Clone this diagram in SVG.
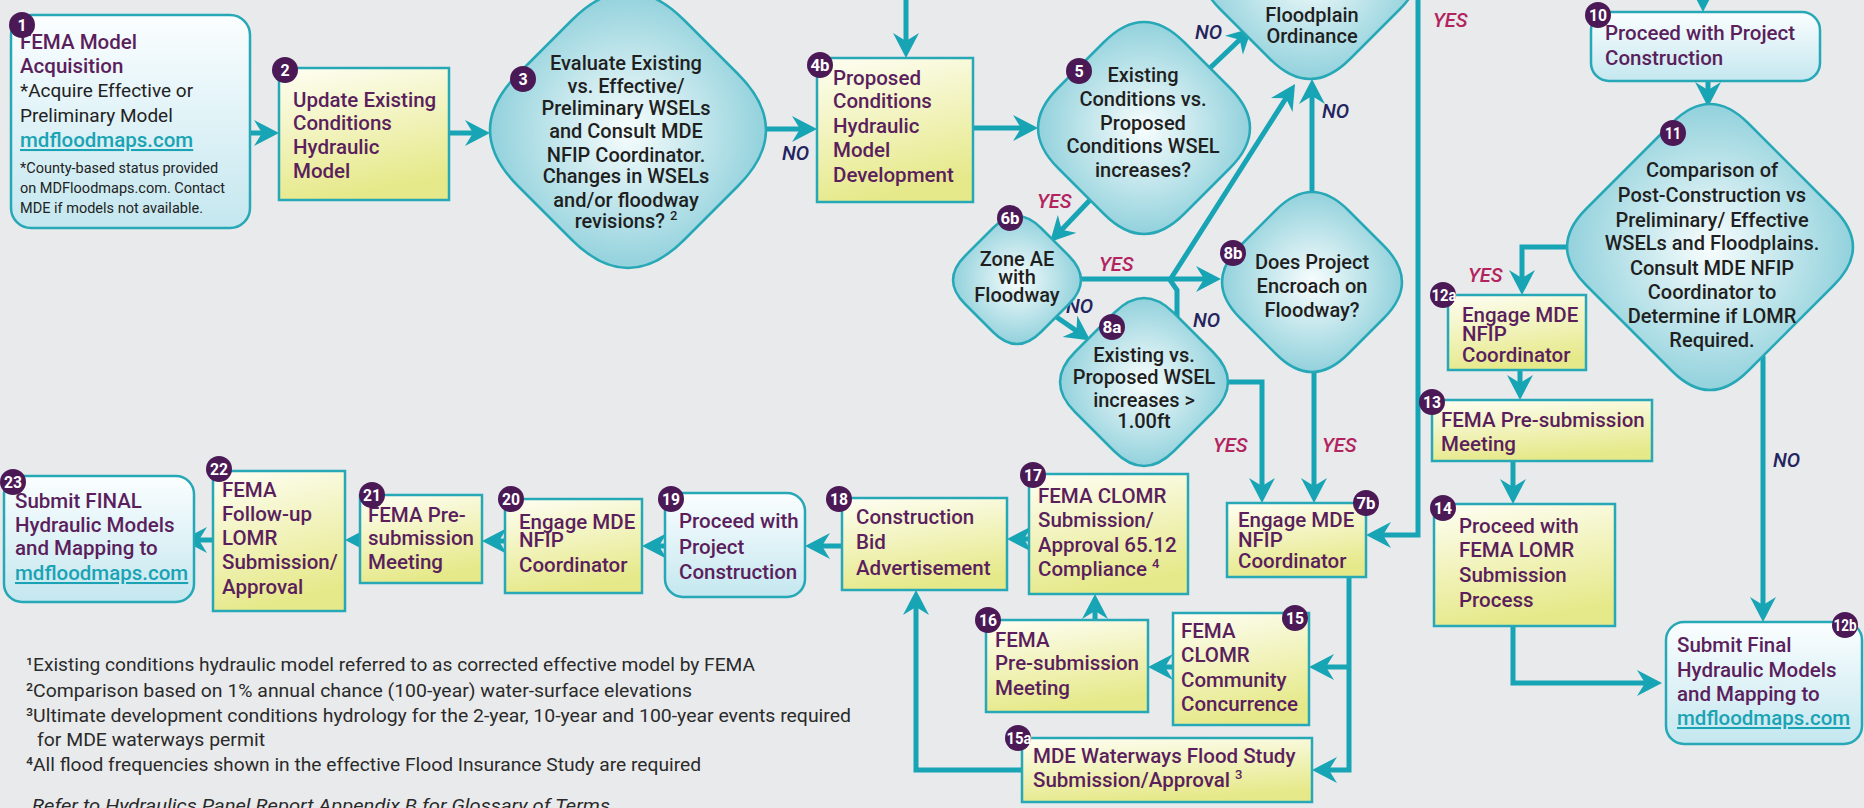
<svg xmlns="http://www.w3.org/2000/svg" width="1864" height="808" viewBox="0 0 1864 808">
<defs>
<style>
.t{font-family:Roboto,'Liberation Sans',sans-serif;font-size:20.5px;font-weight:500;fill:#5a1f5c}
.d{font-family:Roboto,'Liberation Sans',sans-serif;font-size:20px;font-weight:500;fill:#1f1f1f;text-anchor:middle}
.b{font-family:Roboto,'Liberation Sans',sans-serif;font-size:19px;font-weight:400;fill:#222}
.s{font-family:Roboto,'Liberation Sans',sans-serif;font-size:14.5px;font-weight:400;fill:#222}
.lnk{fill:#1aa3b4;text-decoration:underline}
.bc{fill:#4b1a56}
.bt{font-family:Roboto,'Liberation Sans',sans-serif;font-size:16px;font-weight:700;fill:#fff;text-anchor:middle}
.yes{font-family:Roboto,'Liberation Sans',sans-serif;font-size:20px;font-style:italic;font-weight:500;fill:#b3245f}
.no{font-family:Roboto,'Liberation Sans',sans-serif;font-size:20px;font-style:italic;font-weight:500;fill:#24245e}
.fn{font-family:Roboto,'Liberation Sans',sans-serif;font-size:19px;font-weight:400;fill:#2a2a2a}
.conn path{stroke:#17a4b4;stroke-width:5;fill:none;marker-end:url(#ah)}
.box{fill:url(#gy);stroke:#27a8b7;stroke-width:2.5}
.rbox{fill:url(#gb);stroke:#27a8b7;stroke-width:2.5}
.dia{fill:url(#gd);stroke:#27a8b7;stroke-width:2.5}
</style>
<linearGradient id="gy" x1="0" y1="0" x2="0.25" y2="1"><stop offset="0" stop-color="#fefef4"/><stop offset="1" stop-color="#e6e98a"/></linearGradient>
<linearGradient id="gb" x1="0" y1="0" x2="0" y2="1"><stop offset="0" stop-color="#fbfeff"/><stop offset="1" stop-color="#c4e7ef"/></linearGradient>
<radialGradient id="gd" cx="0.5" cy="0.5" r="0.55"><stop offset="0" stop-color="#f8fdfd"/><stop offset="1" stop-color="#88cdd9"/></radialGradient>
<marker id="ah" markerUnits="userSpaceOnUse" markerWidth="26" markerHeight="26" viewBox="0 0 26 26" refX="16" refY="13" orient="auto"><path d="M0,0 L25,13 L0,26 L8,13 Z" fill="#17a4b4"/></marker>
</defs>
<rect x="0" y="0" width="1864" height="808" fill="#e9eaec"/>

<g id="connectors" class="conn">
<path d="M250,133 H270"/>
<path d="M449,133 H481"/>
<path d="M766,129 H808"/>
<path d="M906,-5 V49"/>
<path d="M973,128 H1029"/>
<path d="M1210,68 L1245.5,34.2"/>
<path d="M1177,318 V290 L1170,280 L1290.2,91.6"/>
<path d="M1312,192 V88"/>
<path d="M1090,200 L1056.2,235.5"/>
<path d="M1081,279 H1212"/>
<path d="M1055,316 L1083,335.4"/>
<path d="M1228,382 H1262 V494"/>
<path d="M1314,372 V494"/>
<path d="M1418,-5 V535 H1375"/>
<path d="M1703,-5 V3"/>
<path d="M1708,81 V98"/>
<path d="M1568,247 H1522 V286"/>
<path d="M1520,370 V391"/>
<path d="M1513,461 V495"/>
<path d="M1513,626 V683 H1653"/>
<path d="M1763,356 V613"/>
<path d="M1349,577 V770 H1321"/>
<path d="M1349,667 H1318"/>
<path d="M1173,667 H1157"/>
<path d="M1095,620 V603"/>
<path d="M1029,539 H1016"/>
<path d="M1022,770 H916 V599"/>
<path d="M842,546 H814"/>
<path d="M665,546 H651"/>
<path d="M505,541 H491"/>
<path d="M360,540 H354"/>
<path d="M213,540 H191"/>
</g>

<g id="labels">
<text class="no" x="782" y="160">NO</text>
<text class="no" x="1195" y="39">NO</text>
<text class="no" x="1322" y="118">NO</text>
<text class="yes" x="1433" y="27">YES</text>
<text class="yes" x="1037" y="208">YES</text>
<text class="yes" x="1099" y="271">YES</text>
<text class="no" x="1066" y="313">NO</text>
<text class="no" x="1193" y="327">NO</text>
<text class="yes" x="1213" y="452">YES</text>
<text class="yes" x="1322" y="452">YES</text>
<text class="yes" x="1468" y="282">YES</text>
<text class="no" x="1773" y="467">NO</text>
</g>

<g id="n1">
<rect class="rbox" x="11" y="15" width="239" height="213" rx="20"/>
<text class="t" x="20" y="49">FEMA Model</text>
<text class="t" x="20" y="73">Acquisition</text>
<text class="b" x="20" y="97">*Acquire Effective or</text>
<text class="b" x="20" y="122">Preliminary Model</text>
<text class="t lnk" x="20" y="147">mdfloodmaps.com</text>
<text class="s" x="20" y="173">*County-based status provided</text>
<text class="s" x="20" y="193">on MDFloodmaps.com. Contact</text>
<text class="s" x="20" y="213">MDE if models not available.</text>
<circle class="bc" cx="22" cy="25" r="13"/><text class="bt" x="22" y="31">1</text>
</g>

<g id="n2">
<rect class="box" x="279" y="68" width="170" height="132"/>
<text class="t" x="293" y="107">Update Existing</text>
<text class="t" x="293" y="130">Conditions</text>
<text class="t" x="293" y="154">Hydraulic</text>
<text class="t" x="293" y="178">Model</text>
<circle class="bc" cx="285" cy="70" r="13"/><text class="bt" x="285" y="76">2</text>
</g>

<g id="n3">
<path class="dia" d="M572,20 Q628,-36 684,20 L738,74 Q794,130 738,186 L684,240 Q628,296 572,240 L518,186 Q462,130 518,74 Z"/>
<text class="d" x="626" y="70">Evaluate Existing</text>
<text class="d" x="626" y="93">vs. Effective/</text>
<text class="d" x="626" y="115">Preliminary WSELs</text>
<text class="d" x="626" y="138">and Consult MDE</text>
<text class="d" x="626" y="162">NFIP Coordinator.</text>
<text class="d" x="626" y="183">Changes in WSELs</text>
<text class="d" x="626" y="207">and/or floodway</text>
<text class="d" x="626" y="228">revisions? <tspan font-size="13" dy="-8">2</tspan></text>
<circle class="bc" cx="523" cy="79" r="13"/><text class="bt" x="523" y="85">3</text>
</g>

<g id="n4b">
<rect class="box" x="817" y="58" width="156" height="144"/>
<text class="t" x="833" y="85">Proposed</text>
<text class="t" x="833" y="108">Conditions</text>
<text class="t" x="833" y="133">Hydraulic</text>
<text class="t" x="833" y="157">Model</text>
<text class="t" x="833" y="182">Development</text>
<circle class="bc" cx="820" cy="65" r="13"/><text class="bt" x="820" y="71" textLength="19" lengthAdjust="spacingAndGlyphs">4b</text>
</g>

<g id="n5">
<path class="dia" d="M1104,42 Q1144,2 1184,42 L1230,88 Q1270,128 1230,168 L1184,214 Q1144,254 1104,214 L1058,168 Q1018,128 1058,88 Z"/>
<text class="d" x="1143" y="82">Existing</text>
<text class="d" x="1143" y="106">Conditions vs.</text>
<text class="d" x="1143" y="130">Proposed</text>
<text class="d" x="1143" y="153">Conditions WSEL</text>
<text class="d" x="1143" y="177">increases?</text>
<circle class="bc" cx="1079" cy="71" r="13"/><text class="bt" x="1079" y="77">5</text>
</g>

<g id="n9">
<path class="dia" d="M1270,-121 Q1310,-161 1350,-121 L1400,-71 Q1440,-31 1400,9 L1350,59 Q1310,99 1270,59 L1220,9 Q1180,-31 1220,-71 Z"/>
<text class="d" x="1312" y="22">Floodplain</text>
<text class="d" x="1312" y="43">Ordinance</text>
</g>

<g id="n6b">
<path class="dia" d="M993,228 Q1017,204 1041,228 L1069,256 Q1093,280 1069,304 L1041,332 Q1017,356 993,332 L965,304 Q941,280 965,256 Z"/>
<text class="d" x="1017" y="266">Zone AE</text>
<text class="d" x="1017" y="284">with</text>
<text class="d" x="1017" y="302">Floodway</text>
<circle class="bc" cx="1010" cy="218" r="13"/><text class="bt" x="1010" y="224" textLength="19" lengthAdjust="spacingAndGlyphs">6b</text>
</g>

<g id="n8b">
<path class="dia" d="M1276,210 Q1312,174 1348,210 L1384,246 Q1420,282 1384,318 L1348,354 Q1312,390 1276,354 L1240,318 Q1204,282 1240,246 Z"/>
<text class="d" x="1312" y="269">Does Project</text>
<text class="d" x="1312" y="293">Encroach on</text>
<text class="d" x="1312" y="317">Floodway?</text>
<circle class="bc" cx="1233" cy="253" r="13"/><text class="bt" x="1233" y="259" textLength="19" lengthAdjust="spacingAndGlyphs">8b</text>
</g>

<g id="n8a">
<path class="dia" d="M1114,313 Q1144,283 1174,313 L1213,352 Q1243,382 1213,412 L1174,451 Q1144,481 1114,451 L1075,412 Q1045,382 1075,352 Z"/>
<text class="d" x="1144" y="362">Existing vs.</text>
<text class="d" x="1144" y="384">Proposed WSEL</text>
<text class="d" x="1144" y="407">increases &gt;</text>
<text class="d" x="1144" y="428">1.00ft</text>
<circle class="bc" cx="1112" cy="327" r="13"/><text class="bt" x="1112" y="333" textLength="19" lengthAdjust="spacingAndGlyphs">8a</text>
</g>

<g id="n10">
<rect class="rbox" x="1591" y="12" width="229" height="69" rx="18"/>
<text class="t" x="1605" y="40">Proceed with Project</text>
<text class="t" x="1605" y="65">Construction</text>
<circle class="bc" cx="1598" cy="15" r="13"/><text class="bt" x="1598" y="21" textLength="18" lengthAdjust="spacingAndGlyphs">10</text>
</g>

<g id="n11">
<path class="dia" d="M1672,123 Q1710,85 1748,123 L1834,209 Q1872,247 1834,285 L1748,371 Q1710,409 1672,371 L1586,285 Q1548,247 1586,209 Z"/>
<text class="d" x="1712" y="177">Comparison of</text>
<text class="d" x="1712" y="202">Post-Construction vs</text>
<text class="d" x="1712" y="227">Preliminary/ Effective</text>
<text class="d" x="1712" y="250">WSELs and Floodplains.</text>
<text class="d" x="1712" y="275">Consult MDE NFIP</text>
<text class="d" x="1712" y="299">Coordinator to</text>
<text class="d" x="1712" y="323">Determine if LOMR</text>
<text class="d" x="1712" y="347">Required.</text>
<circle class="bc" cx="1673" cy="133" r="13"/><text class="bt" x="1673" y="139" textLength="16" lengthAdjust="spacingAndGlyphs">11</text>
</g>

<g id="n12a">
<rect class="box" x="1448" y="295" width="138" height="75"/>
<text class="t" x="1462" y="322">Engage MDE</text>
<text class="t" x="1462" y="341">NFIP</text>
<text class="t" x="1462" y="362">Coordinator</text>
<circle class="bc" cx="1443" cy="295" r="13"/><text class="bt" x="1444" y="301" textLength="25" lengthAdjust="spacingAndGlyphs">12a</text>
</g>

<g id="n13">
<rect class="box" x="1432" y="400" width="220" height="61"/>
<text class="t" x="1441" y="427">FEMA Pre-submission</text>
<text class="t" x="1441" y="451">Meeting</text>
<circle class="bc" cx="1432" cy="402" r="13"/><text class="bt" x="1432" y="408" textLength="18" lengthAdjust="spacingAndGlyphs">13</text>
</g>

<g id="n14">
<rect class="box" x="1434" y="504" width="181" height="122"/>
<text class="t" x="1459" y="533">Proceed with</text>
<text class="t" x="1459" y="557">FEMA LOMR</text>
<text class="t" x="1459" y="582">Submission</text>
<text class="t" x="1459" y="607">Process</text>
<circle class="bc" cx="1443" cy="508" r="13"/><text class="bt" x="1443" y="514" textLength="18" lengthAdjust="spacingAndGlyphs">14</text>
</g>

<g id="n12b">
<rect class="rbox" x="1666" y="622" width="196" height="122" rx="18"/>
<text class="t" x="1677" y="652">Submit Final</text>
<text class="t" x="1677" y="677">Hydraulic Models</text>
<text class="t" x="1677" y="701">and Mapping to</text>
<text class="t lnk" x="1677" y="725">mdfloodmaps.com</text>
<circle class="bc" cx="1845" cy="625" r="13"/><text class="bt" x="1845" y="631" textLength="23" lengthAdjust="spacingAndGlyphs">12b</text>
</g>

<g id="n7b">
<rect class="box" x="1227" y="503" width="139" height="74"/>
<text class="t" x="1238" y="527">Engage MDE</text>
<text class="t" x="1238" y="547">NFIP</text>
<text class="t" x="1238" y="568">Coordinator</text>
<circle class="bc" cx="1366" cy="503" r="13"/><text class="bt" x="1366" y="509" textLength="19" lengthAdjust="spacingAndGlyphs">7b</text>
</g>

<g id="n15">
<rect class="box" x="1173" y="613" width="136" height="112"/>
<text class="t" x="1181" y="638">FEMA</text>
<text class="t" x="1181" y="662">CLOMR</text>
<text class="t" x="1181" y="687">Community</text>
<text class="t" x="1181" y="711">Concurrence</text>
<circle class="bc" cx="1295" cy="618" r="13"/><text class="bt" x="1295" y="624" textLength="18" lengthAdjust="spacingAndGlyphs">15</text>
</g>

<g id="n16">
<rect class="box" x="986" y="620" width="162" height="92"/>
<text class="t" x="995" y="647">FEMA</text>
<text class="t" x="995" y="670">Pre-submission</text>
<text class="t" x="995" y="695">Meeting</text>
<circle class="bc" cx="988" cy="620" r="13"/><text class="bt" x="988" y="626" textLength="18" lengthAdjust="spacingAndGlyphs">16</text>
</g>

<g id="n17">
<rect class="box" x="1029" y="474" width="159" height="120"/>
<text class="t" x="1038" y="503">FEMA CLOMR</text>
<text class="t" x="1038" y="527">Submission/</text>
<text class="t" x="1038" y="552">Approval 65.12</text>
<text class="t" x="1038" y="576">Compliance <tspan font-size="13" dy="-8">4</tspan></text>
<circle class="bc" cx="1033" cy="475" r="13"/><text class="bt" x="1033" y="481" textLength="18" lengthAdjust="spacingAndGlyphs">17</text>
</g>

<g id="n15a">
<rect class="box" x="1022" y="738" width="290" height="64"/>
<text class="t" x="1033" y="763">MDE Waterways Flood Study</text>
<text class="t" x="1033" y="787">Submission/Approval <tspan font-size="13" dy="-8">3</tspan></text>
<circle class="bc" cx="1018" cy="738" r="13"/><text class="bt" x="1019" y="744" textLength="25" lengthAdjust="spacingAndGlyphs">15a</text>
</g>

<g id="n18">
<rect class="box" x="842" y="498" width="165" height="92"/>
<text class="t" x="856" y="524">Construction</text>
<text class="t" x="856" y="549">Bid</text>
<text class="t" x="856" y="575">Advertisement</text>
<circle class="bc" cx="839" cy="499" r="13"/><text class="bt" x="839" y="505" textLength="18" lengthAdjust="spacingAndGlyphs">18</text>
</g>

<g id="n19">
<rect class="rbox" x="665" y="493" width="140" height="104" rx="18"/>
<text class="t" x="679" y="528">Proceed with</text>
<text class="t" x="679" y="554">Project</text>
<text class="t" x="679" y="579">Construction</text>
<circle class="bc" cx="671" cy="499" r="13"/><text class="bt" x="671" y="505" textLength="18" lengthAdjust="spacingAndGlyphs">19</text>
</g>

<g id="n20">
<rect class="box" x="505" y="499" width="137" height="94"/>
<text class="t" x="519" y="529">Engage MDE</text>
<text class="t" x="519" y="547">NFIP</text>
<text class="t" x="519" y="572">Coordinator</text>
<circle class="bc" cx="511" cy="499" r="13"/><text class="bt" x="511" y="505" textLength="18" lengthAdjust="spacingAndGlyphs">20</text>
</g>

<g id="n21">
<rect class="box" x="360" y="495" width="122" height="88"/>
<text class="t" x="368" y="522">FEMA Pre-</text>
<text class="t" x="368" y="545">submission</text>
<text class="t" x="368" y="569">Meeting</text>
<circle class="bc" cx="372" cy="495" r="13"/><text class="bt" x="372" y="501" textLength="18" lengthAdjust="spacingAndGlyphs">21</text>
</g>

<g id="n22">
<rect class="box" x="213" y="471" width="132" height="140"/>
<text class="t" x="222" y="497">FEMA</text>
<text class="t" x="222" y="521">Follow-up</text>
<text class="t" x="222" y="545">LOMR</text>
<text class="t" x="222" y="569">Submission/</text>
<text class="t" x="222" y="594">Approval</text>
<circle class="bc" cx="219" cy="469" r="13"/><text class="bt" x="219" y="475" textLength="18" lengthAdjust="spacingAndGlyphs">22</text>
</g>

<g id="n23">
<rect class="rbox" x="4" y="476" width="190" height="126" rx="18"/>
<text class="t" x="15" y="508">Submit FINAL</text>
<text class="t" x="15" y="532">Hydraulic Models</text>
<text class="t" x="15" y="555">and Mapping to</text>
<text class="t lnk" x="15" y="580">mdfloodmaps.com</text>
<circle class="bc" cx="13" cy="482" r="13"/><text class="bt" x="13" y="488" textLength="18" lengthAdjust="spacingAndGlyphs">23</text>
</g>

<g id="footnotes">
<text class="fn" x="26" y="671" textLength="729" lengthAdjust="spacingAndGlyphs">¹Existing conditions hydraulic model referred to as corrected effective model by FEMA</text>
<text class="fn" x="26" y="697" textLength="666" lengthAdjust="spacingAndGlyphs">²Comparison based on 1% annual chance (100-year) water-surface elevations</text>
<text class="fn" x="26" y="722" textLength="825" lengthAdjust="spacingAndGlyphs">³Ultimate development conditions hydrology for the 2-year, 10-year and 100-year events required</text>
<text class="fn" x="37" y="746" textLength="228" lengthAdjust="spacingAndGlyphs">for MDE waterways permit</text>
<text class="fn" x="26" y="771" textLength="675" lengthAdjust="spacingAndGlyphs">⁴All flood frequencies shown in the effective Flood Insurance Study are required</text>
<text class="fn" x="32" y="812" font-style="italic" fill="#444" textLength="578" lengthAdjust="spacingAndGlyphs">Refer to Hydraulics Panel Report Appendix B for Glossary of Terms</text>
</g>
</svg>
